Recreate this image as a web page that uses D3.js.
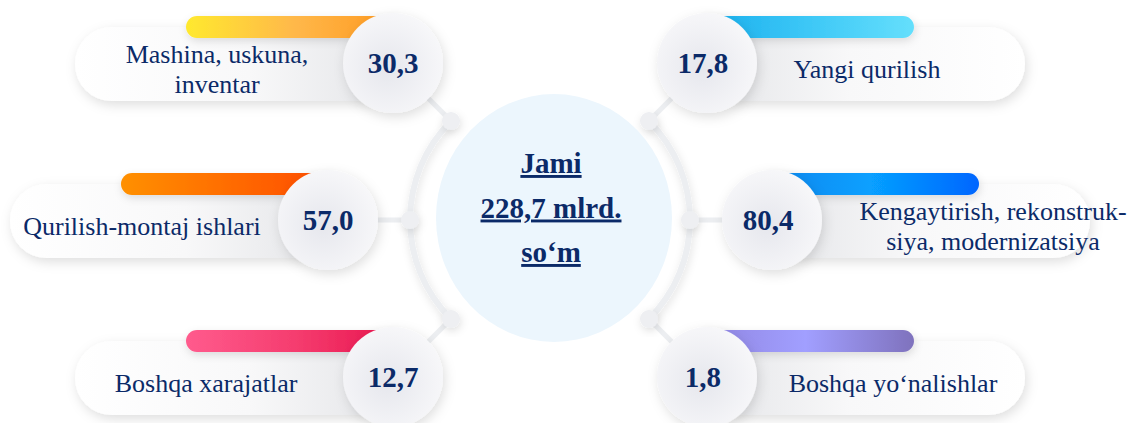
<!DOCTYPE html>
<html>
<head>
<meta charset="utf-8">
<script src="https://cdn.jsdelivr.net/npm/d3@7"></script>
<style>
  html, body { margin: 0; padding: 0; background: #ffffff; }
  svg { display: block; }
</style>
</head>
<body>
<script>
// items: left column top->bottom, then right column top->bottom
var labels = [
  ["Mashina, uskuna,", "inventar"],
  ["Qurilish-montaj ishlari"],
  ["Boshqa xarajatlar"],
  ["Yangi qurilish"],
  ["Kengaytirish, rekonstruk-", "siya, modernizatsiya"],
  ["Boshqa yo\u2018nalishlar"]
];
var values = [30.3, 57.0, 12.7, 17.8, 80.4, 1.8];
var sides = ["left", "left", "left", "right", "right", "right"];
var rows = [0, 1, 2, 0, 1, 2];
var totalLines = ["Jami", "228,7 mlrd.", "so\u2018m"];

// styles
var barColors = [
  ["#ffe92e", "#ffb84a", "#ff961c"],
  ["#ff9000", "#ff6c00", "#ff4800"],
  ["#ff5b8d", "#f53d6f", "#e8124c"],
  ["#16aded", "#3cc7f6", "#65dffc"],
  ["#0a86ee", "#07a0ff", "#0066ff"],
  ["#8f84df", "#a19fff", "#7f72bd"]
];
var labelDx = [-176, -186, -187, 160, 221, 186];
var navy = "#0b2a68";

var w = 1136, h = 423;
var cx = 550, cy = 220;
var arcR = 140, itemR = 222;

var fmt = function(v) { return d3.format(".1f")(v).replace(".", ","); };

var svg = d3.select("body").append("svg")
  .attr("width", w)
  .attr("height", h);

var defs = svg.append("defs");

var sh = defs.append("filter").attr("id", "shadow")
  .attr("x", "-30%").attr("y", "-40%").attr("width", "160%").attr("height", "190%");
sh.append("feDropShadow").attr("dx", 2).attr("dy", 4).attr("stdDeviation", 6)
  .attr("flood-color", "#000").attr("flood-opacity", 0.13);

var sh2 = defs.append("filter").attr("id", "shadowSmall")
  .attr("x", "-50%").attr("y", "-50%").attr("width", "200%").attr("height", "200%");
sh2.append("feDropShadow").attr("dx", 1).attr("dy", 3).attr("stdDeviation", 4)
  .attr("flood-color", "#000").attr("flood-opacity", 0.12);

var rg = defs.append("radialGradient").attr("id", "circFill")
  .attr("cx", "45%").attr("cy", "55%").attr("r", "60%");
rg.append("stop").attr("offset", "0%").attr("stop-color", "#e6e7ed");
rg.append("stop").attr("offset", "100%").attr("stop-color", "#f8f8fa");

["left", "right"].forEach(function(s) {
  var g = defs.append("linearGradient").attr("id", "pill-" + s)
    .attr("x1", s == "left" ? "0%" : "100%").attr("x2", s == "left" ? "100%" : "0%")
    .attr("y1", "0%").attr("y2", "0%");
  g.append("stop").attr("offset", "0%").attr("stop-color", "#ffffff");
  g.append("stop").attr("offset", "55%").attr("stop-color", "#f8f8f9");
  g.append("stop").attr("offset", "100%").attr("stop-color", "#e4e5e8");
});

barColors.forEach(function(c, i) {
  var g = defs.append("linearGradient").attr("id", "bar" + i)
    .attr("x1", "0%").attr("x2", "100%").attr("y1", "0%").attr("y2", "0%");
  c.forEach(function(col, k) {
    g.append("stop").attr("offset", (k * 50) + "%").attr("stop-color", col);
  });
});

// row angle: -45 (top), 0, 45 (bottom)
var rowAngle = d3.scalePoint().domain([0, 1, 2]).range([-45, 45]);

var items = values.map(function(v, i) {
  var a = rowAngle(rows[i]);
  var theta = (sides[i] == "left" ? 180 - a : a) * Math.PI / 180;
  return {
    i: i,
    value: v,
    label: labels[i],
    side: sides[i],
    theta: theta,
    x: cx + itemR * Math.cos(theta),
    y: cy + itemR * Math.sin(theta),
    dotX: cx + arcR * Math.cos(theta),
    dotY: cy + arcR * Math.sin(theta)
  };
});

// arcs around the centre
var arc = d3.arc().innerRadius(arcR - 3).outerRadius(arcR + 3);
var frame = svg.append("g").attr("transform", "translate(" + cx + "," + cy + ")")
  .attr("filter", "url(#shadowSmall)");
frame.append("path")
  .attr("d", arc({ startAngle: 5 * Math.PI / 4, endAngle: 7 * Math.PI / 4 }))
  .attr("fill", "#eceef1");
frame.append("path")
  .attr("d", arc({ startAngle: Math.PI / 4, endAngle: 3 * Math.PI / 4 }))
  .attr("fill", "#eceef1");

svg.selectAll(".connector")
  .data(items)
  .enter()
  .append("line")
  .attr("class", "connector")
  .attr("x1", function(d) { return d.dotX; })
  .attr("y1", function(d) { return d.dotY; })
  .attr("x2", function(d) { return d.x; })
  .attr("y2", function(d) { return d.y; })
  .attr("stroke", "#eceef1")
  .attr("stroke-width", 5);

svg.selectAll(".dot")
  .data(items)
  .enter()
  .append("circle")
  .attr("class", "dot")
  .attr("cx", function(d) { return d.dotX; })
  .attr("cy", function(d) { return d.dotY; })
  .attr("r", 9)
  .attr("fill", "#eeeff2")
  .attr("filter", "url(#shadowSmall)");

// centre
svg.append("ellipse")
  .attr("cx", 554)
  .attr("cy", 218)
  .attr("rx", 118)
  .attr("ry", 124)
  .attr("fill", "#ecf6fd");

svg.selectAll(".total")
  .data(totalLines)
  .enter()
  .append("text")
  .attr("class", "total")
  .attr("x", 551)
  .attr("y", function(d, i) { return 173 + i * 44.5; })
  .attr("text-anchor", "middle")
  .attr("font-family", "'Liberation Serif', 'Times New Roman', serif")
  .attr("font-weight", "bold")
  .attr("font-size", 29)
  .attr("fill", navy)
  .style("text-decoration", "underline")
  .text(function(d) { return d; });

// items
var g = svg.selectAll(".item")
  .data(items)
  .enter()
  .append("g")
  .attr("class", "item");

g.append("rect")
  .attr("x", function(d) { return d.side == "left" ? d.x - 318 : d.x; })
  .attr("y", function(d) { return d.y - 36; })
  .attr("width", 318)
  .attr("height", 74)
  .attr("rx", 37)
  .attr("fill", function(d) { return "url(#pill-" + d.side + ")"; })
  .attr("filter", "url(#shadow)");

g.append("rect")
  .attr("x", function(d) { return d.side == "left" ? d.x - 207 : d.x - 10; })
  .attr("y", function(d) { return d.y - 47; })
  .attr("width", 217)
  .attr("height", 22)
  .attr("rx", 11)
  .attr("fill", function(d) { return "url(#bar" + d.i + ")"; })
  .attr("filter", "url(#shadowSmall)");

g.append("circle")
  .attr("cx", function(d) { return d.x; })
  .attr("cy", function(d) { return d.y; })
  .attr("r", 50)
  .attr("fill", "url(#circFill)")
  .attr("filter", "url(#shadow)");

g.append("text")
  .attr("x", function(d) { return d.side == "left" ? d.x : d.x - 4; })
  .attr("y", function(d) { return d.y + 10; })
  .attr("text-anchor", "middle")
  .attr("font-family", "'Liberation Serif', 'Times New Roman', serif")
  .attr("font-weight", "bold")
  .attr("font-size", 29)
  .attr("fill", navy)
  .text(function(d) { return fmt(d.value); });

g.each(function(d) {
  var n = d.label.length;
  d3.select(this).selectAll(".label")
    .data(d.label)
    .enter()
    .append("text")
    .attr("class", "label")
    .attr("x", d.x + labelDx[d.i])
    .attr("y", function(t, k) { return n == 1 ? d.y + 15 : d.y + k * 30; })
    .attr("text-anchor", "middle")
    .attr("font-family", "'Liberation Serif', 'Times New Roman', serif")
    .attr("font-size", 26)
    .attr("fill", navy)
    .text(function(t) { return t; });
});
</script>
</body>
</html>
